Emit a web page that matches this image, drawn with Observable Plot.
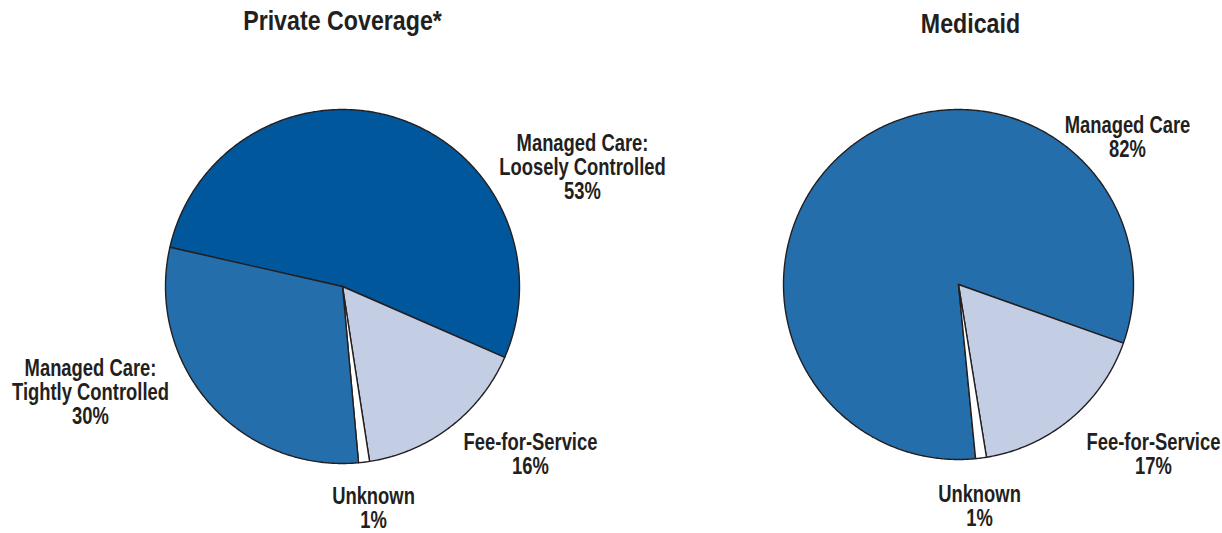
<!DOCTYPE html>
<html>
<head>
<meta charset="utf-8">
<script src="https://cdn.jsdelivr.net/npm/d3@7"></script>
<script src="https://cdn.jsdelivr.net/npm/@observablehq/plot@0.6"></script>
<style>
  html, body { margin: 0; padding: 0; background: #fff; }
  #chart svg { display: block; font-family: "Liberation Sans", Arial, sans-serif; }
</style>
</head>
<body>
<div id="chart"></div>
<script>
// ---- data ----
const titles = ["Private Coverage*", "Medicaid"];
const privateCategories = ["Managed Care: Loosely Controlled", "Fee-for-Service", "Unknown", "Managed Care: Tightly Controlled"];
const privateValues = [53, 16, 1, 30];
const privateLabels = ["Managed Care:\nLoosely Controlled", "Fee-for-Service", "Unknown", "Managed Care:\nTightly Controlled"];
const medicaidCategories = ["Managed Care", "Fee-for-Service", "Unknown"];
const medicaidValues = [82, 17, 1];
const medicaidLabels = ["Managed Care", "Fee-for-Service", "Unknown"];

// ---- layout / style ----
const W = 1222, H = 533;
const ink = "#231F20";
const layout = [
  {cx: 342, cy: 286, r: 177, start: -77.2, titleY: 21,
   colors: ["#00579B", "#C3CEE5", "#FFFFFF", "#236EAB"],
   labelPos: [[240, -119], [188, 168], [31, 222], [-252, 106]]},
  {cx: 958, cy: 284, r: 175, start: 174.4, titleY: 24,
   colors: ["#236EAB", "#C3CEE5", "#FFFFFF"],
   labelPos: [[169, -147], [195, 170], [21, 222]]}
];
const pies = [
  {title: titles[0], cats: privateCategories, vals: privateValues, labels: privateLabels},
  {title: titles[1], cats: medicaidCategories, vals: medicaidValues, labels: medicaidLabels}
];

const slicePts = [];
const labelRows = [];
const titleRows = [];
pies.forEach((p, i) => {
  const L = layout[i];
  const a0 = L.start * Math.PI / 180;
  const arcs = d3.pie().sort(null).startAngle(a0).endAngle(a0 + 2 * Math.PI)(p.vals);
  arcs.forEach((a, j) => {
    const key = i + "-" + j;
    const n = Math.max(2, Math.ceil((a.endAngle - a.startAngle) / (Math.PI / 360)));
    slicePts.push({key, color: L.colors[j], x: L.cx, y: L.cy});
    for (let k = 0; k <= n; k++) {
      const t = a.startAngle + (a.endAngle - a.startAngle) * k / n;
      slicePts.push({key, color: L.colors[j], x: L.cx + L.r * Math.sin(t), y: L.cy - L.r * Math.cos(t)});
    }
    slicePts.push({key, color: L.colors[j], x: L.cx, y: L.cy});
    labelRows.push({x: L.cx + L.labelPos[j][0], y: L.cy + L.labelPos[j][1], text: p.labels[j] + "\n" + p.vals[j] + "%"});
  });
  titleRows.push({x: L.cx + (i === 1 ? 12 : 0), y: L.titleY, text: p.title});
});

const chart = Plot.plot({
  width: W, height: H, margin: 0,
  x: {domain: [0, W], range: [0, W], axis: null},
  y: {domain: [0, H], range: [0, H], axis: null},
  marks: [
    Plot.line(slicePts, {x: "x", y: "y", z: "key", fill: "color", stroke: ink, strokeWidth: 1.4, strokeLinejoin: "round", curve: "linear"}),
    Plot.text(labelRows, {x: "x", y: "y", text: "text", fill: ink, fontSize: 23, fontWeight: "bold", lineAnchor: "middle", lineHeight: 1.05, textAnchor: "middle", className: "lbl"}),
    Plot.text(titleRows, {x: "x", y: "y", text: "text", fill: ink, fontSize: 27, fontWeight: "bold", lineAnchor: "middle", textAnchor: "middle", className: "ttl"})
  ]
});
// emulate a condensed face by narrowing the real text horizontally
d3.select(chart).selectAll(".lbl text").each(function () {
  this.setAttribute("transform", (this.getAttribute("transform") || "") + " scale(0.8,1)");
});
d3.select(chart).selectAll(".ttl text").each(function () {
  this.setAttribute("transform", (this.getAttribute("transform") || "") + " scale(0.86,1)");
});
document.getElementById("chart").appendChild(chart);
</script>
</body>
</html>
